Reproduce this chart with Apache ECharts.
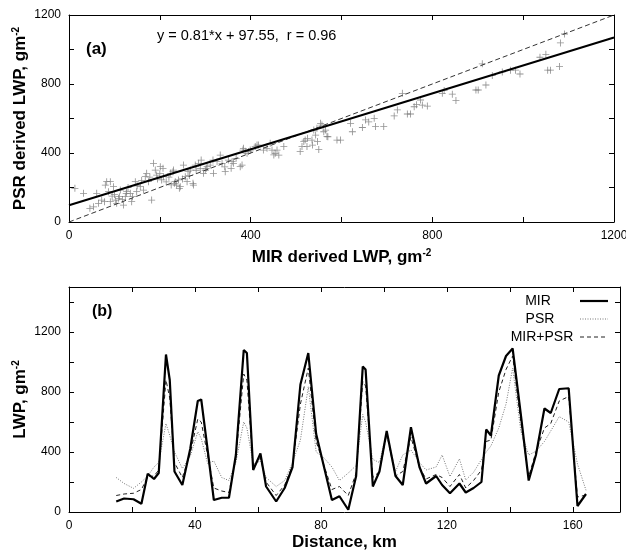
<!DOCTYPE html>
<html>
<head>
<meta charset="utf-8">
<script src="https://cdn.jsdelivr.net/npm/echarts@6/dist/echarts.min.js"></script>
<style>html,body{margin:0;padding:0;background:#fff}#c{width:626px;height:550px}</style>
</head>
<body>
<div id="c"></div>
<script>
// ---- Panel (a): scatter MIR vs PSR ----
const scatterMIR = [13,32,46,54,61,65,72,78,80,83,87,91,91,95,98,100,102,105,109,111,113,118,120,124,126,127,130,135,138,140,146,150,149,157,160,164,168,171,175,178,182,186,190,193,195,200,201,204,207,208,214,220,223,225,229,230,232,234,237,241,243,245,250,252,256,260,262,265,267,273,274,278,280,285,289,291,296,300,302,304,311,317,318,326,333,337,343,344,351,357,359,362,368,377,381,383,384,388,392,395,399,410,414,417,428,436,443,447,451,454,458,462,473,509,513,517,520,524,525,535,536,539,543,546,547,550,554,557,561,565,568,570,590,598,620,624,646,653,660,672,675,693,716,723,734,745,752,760,765,774,778,789,822,826,844,852,896,901,910,918,932,954,972,983,993,1037,1050,1054,1060,1080,1082,1091];
const scatterPSR = [195,166,79,88,166,108,127,118,214,234,176,234,118,150,205,160,127,108,137,147,185,130,98,147,166,176,200,166,118,147,234,210,176,205,240,185,263,282,234,260,127,340,301,272,250,280,321,244,311,263,233,260,282,215,292,301,224,234,214,244,195,205,250,330,263,234,292,270,301,224,214,330,300,340,311,359,282,300,311,321,330,359,282,350,388,340,320,292,359,311,350,340,369,321,330,417,427,410,398,408,417,437,446,446,417,427,456,417,389,398,417,388,437,408,437,466,475,437,485,475,446,533,504,543,466,421,572,562,523,533,495,494,475,475,572,523,548,592,580,601,553,553,615,650,746,626,626,668,680,707,678,672,746,762,741,704,765,765,917,794,850,870,880,880,858,955,972,880,880,901,1038,1090];
const fitSlope = 0.81, fitIntercept = 97.55;
const lineEnds = [0, 1200];
const xTicksA = [0, 400, 800, 1200];
const yTicksA = [0, 400, 800, 1200];

// ---- Panel (b): transect ----
const distKm = [15,17.5,20.5,23,25,27,28.5,30.8,32,33.5,36,38.5,40.9,42,44,46,48.5,50.8,53,55.5,56.5,58.5,60.8,62.6,65.8,68.5,71,73.5,76,78.5,81,83.5,85.9,88.7,91.2,93.3,94.2,96.5,98.6,100.9,103.7,106,108.6,111.3,113.4,116.6,118.5,121,124,126,128.5,131,132.5,134,136.5,138.8,140.9,143.5,146,148.3,151,153,155.7,158.7,161.5,164.2];
const mirLWP = [70,90,85,55,255,220,260,1050,880,270,180,420,740,750,420,80,95,95,380,1080,1060,280,390,170,70,160,300,850,1060,520,300,80,105,15,240,970,950,170,270,540,240,180,565,300,190,240,180,125,190,130,160,200,550,510,910,1040,1090,650,210,380,690,660,820,825,40,120];
const psrLWP = [230,190,158,200,240,300,330,590,510,400,290,370,535,490,325,340,230,210,330,600,560,320,340,230,170,210,330,480,835,400,360,300,210,260,310,650,600,350,330,530,270,380,413,330,280,300,380,236,355,213,265,350,400,440,560,720,960,540,380,405,470,540,636,600,320,145];
const mixLWP = [110,120,125,150,235,240,280,880,760,330,230,390,620,600,380,160,140,130,360,920,880,300,360,200,110,180,310,720,960,470,310,150,170,110,260,870,840,230,270,520,240,270,500,300,220,250,230,170,250,160,210,280,470,480,800,950,1040,600,236,400,560,590,740,770,100,113];
const seriesNames = ['MIR', 'PSR', 'MIR+PSR'];
const xTicksB = [0, 40, 80, 120, 160];
const yTicksB = [0, 400, 800, 1200];

const FONT = 'Liberation Sans, Arial, sans-serif';
const pairs = (xs, ys) => xs.map((x, i) => [x, ys[i]]);
const lbl = (ticks) => (v) => ticks.indexOf(v) >= 0 ? String(v) : '';
const rich = {
  a: {fontSize: 17, fontWeight: 'bold', fontFamily: FONT, color: '#000'},
  s: {fontSize: 10, fontWeight: 'bold', fontFamily: FONT, color: '#000', padding: [0, 0, 9, 0]}
};
function mainAxis(grid, pos, min, max, interval, ticks, name, gap) {
  return {
    type: 'value', gridIndex: grid, position: pos, min: min, max: max, interval: interval,
    axisLine: {show: true, onZero: false, lineStyle: {color: '#000', width: 1}},
    axisTick: {show: true, inside: true, length: 5, lineStyle: {color: '#000'}},
    axisLabel: {show: true, formatter: lbl(ticks), color: '#000', fontSize: 12, fontFamily: FONT, margin: 8, showMaxLabel: true},
    splitLine: {show: false},
    name: name, nameLocation: 'middle', nameGap: gap, nameMoveOverlap: false,
    nameTextStyle: {rich: rich}
  };
}
function sideAxis(grid, pos, min, max, interval) {
  return {
    type: 'value', gridIndex: grid, position: pos, min: min, max: max, interval: interval,
    axisLine: {show: true, onZero: false, lineStyle: {color: '#000', width: 1}},
    axisTick: {show: true, inside: true, length: 5, lineStyle: {color: '#000'}},
    axisLabel: {show: false}, splitLine: {show: false}
  };
}

const chart = echarts.init(document.getElementById('c'), null, {renderer: 'canvas'});
chart.setOption({
  backgroundColor: '#fff',
  animation: false,
  grid: [
    {left: 69, right: 12, top: 15, height: 207, outerBoundsMode: 'none', containLabel: false},
    {left: 69, right: 6, top: 287, height: 225, outerBoundsMode: 'none', containLabel: false}
  ],
  xAxis: [
    mainAxis(0, 'bottom', 0, 1200, 200, xTicksA, '{a|MIR derived LWP, gm}{s|-2}', 26),
    sideAxis(0, 'top', 0, 1200, 200),
    mainAxis(1, 'bottom', 0, 175, 20, xTicksB, '{a|Distance, km}', 22),
    sideAxis(1, 'top', 0, 175, 20)
  ],
  yAxis: [
    mainAxis(0, 'left', 0, 1200, 200, yTicksA, '{a|PSR derived LWP, gm}{s|-2}', 39),
    sideAxis(0, 'right', 0, 1200, 200),
    mainAxis(1, 'left', 0, 1500, 200, yTicksB, '{a|LWP, gm}{s|-2}', 39),
    sideAxis(1, 'right', 0, 1500, 200)
  ],
  series: [
    {
      type: 'scatter', xAxisIndex: 0, yAxisIndex: 0,
      data: pairs(scatterMIR, scatterPSR),
      symbol: 'path://M4.4,0H5.6V4.4H10V5.6H5.6V10H4.4V5.6H0V4.4H4.4Z', symbolSize: 7,
      itemStyle: {color: '#777'}, z: 2
    },
    {
      type: 'line', xAxisIndex: 0, yAxisIndex: 0, symbol: 'none',
      data: lineEnds.map(x => [x, x]),
      lineStyle: {color: '#333', width: 1, type: [5, 3]}, z: 3
    },
    {
      type: 'line', xAxisIndex: 0, yAxisIndex: 0, symbol: 'none',
      data: lineEnds.map(x => [x, fitSlope * x + fitIntercept]),
      lineStyle: {color: '#000', width: 2}, z: 4
    },
    {
      name: seriesNames[1], type: 'line', xAxisIndex: 2, yAxisIndex: 2, symbol: 'none',
      data: pairs(distKm, psrLWP),
      lineStyle: {color: '#777', width: 1, type: [1, 1.5]}, z: 2
    },
    {
      name: seriesNames[2], type: 'line', xAxisIndex: 2, yAxisIndex: 2, symbol: 'none',
      data: pairs(distKm, mixLWP),
      lineStyle: {color: '#222', width: 1, type: [4, 3]}, z: 3
    },
    {
      name: seriesNames[0], type: 'line', xAxisIndex: 2, yAxisIndex: 2, symbol: 'none',
      data: pairs(distKm, mirLWP),
      lineStyle: {color: '#000', width: 2.2}, z: 4
    }
  ],
  graphic: [
    {type: 'text', left: 86, top: 41, style: {text: '(a)', font: 'bold 17px ' + FONT, fill: '#000'}},
    {type: 'text', left: 157, top: 28, style: {text: 'y = 0.81*x + 97.55,  r = 0.96', font: '14.5px ' + FONT, fill: '#000'}},
    {type: 'text', left: 92, top: 304, style: {text: '(b)', font: 'bold 16px ' + FONT, fill: '#000'}},
    {type: 'text', x: 538, y: 301, style: {text: seriesNames[0], font: '14px ' + FONT, fill: '#000', align: 'center', verticalAlign: 'middle'}},
    {type: 'text', x: 540, y: 319, style: {text: seriesNames[1], font: '14px ' + FONT, fill: '#000', align: 'center', verticalAlign: 'middle'}},
    {type: 'text', x: 542, y: 337, style: {text: seriesNames[2], font: '14px ' + FONT, fill: '#000', align: 'center', verticalAlign: 'middle'}},
    {type: 'line', shape: {x1: 580, y1: 301, x2: 608, y2: 301}, style: {stroke: '#000', lineWidth: 2.2}},
    {type: 'line', shape: {x1: 580, y1: 319, x2: 608, y2: 319}, style: {stroke: '#777', lineWidth: 1, lineDash: [1, 1.5]}},
    {type: 'line', shape: {x1: 580, y1: 337, x2: 608, y2: 337}, style: {stroke: '#222', lineWidth: 1, lineDash: [4, 3]}}
  ]
});
</script>
</body>
</html>
